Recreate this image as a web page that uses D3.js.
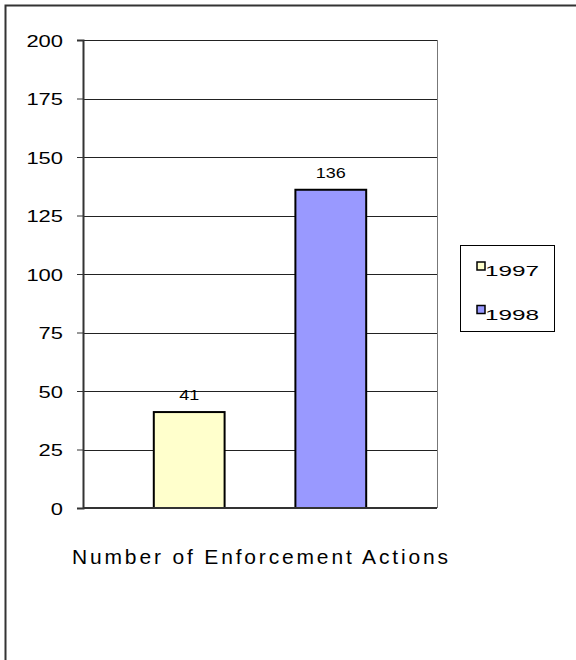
<!DOCTYPE html>
<html>
<head>
<meta charset="utf-8">
<script src="https://cdn.jsdelivr.net/npm/d3@7"></script>
<style>
  body { margin: 0; background: #fff; }
  text { font-family: "Liberation Sans", Arial, sans-serif; fill: #000; }
</style>
</head>
<body>
<div id="chart"></div>
<script>
// data
const years = ["1997", "1998"];
const actions = [41, 136];
const yTicks = [0, 25, 50, 75, 100, 125, 150, 175, 200];
const xTitle = "Number of Enforcement Actions";
const colors = ["#ffffcc", "#9999ff"];

const W = 576, H = 660;

const svg = d3
  .select("#chart")
  .append("svg")
  .attr("width", W)
  .attr("height", H);

// outer chart frame (right and bottom run off the picture)
svg.append("rect")
  .attr("x", 5.5).attr("y", 5.5)
  .attr("width", W + 10).attr("height", H + 10)
  .attr("fill", "none")
  .attr("stroke", "#333")
  .attr("stroke-width", 2);

const plot = { left: 83, right: 437, top: 40, bottom: 508 };

const y = d3.scaleLinear().domain([0, 200]).range([plot.bottom, plot.top]);

const x = d3
  .scaleBand()
  .domain(years)
  .range([plot.left, plot.right])
  .paddingInner(0.5)
  .paddingOuter(0.5);

// gridlines
svg.append("g")
  .selectAll("line")
  .data(yTicks.filter((d) => d > 0))
  .enter()
  .append("line")
  .attr("x1", plot.left)
  .attr("x2", plot.right)
  .attr("y1", (d) => Math.round(y(d)) + 0.5)
  .attr("y2", (d) => Math.round(y(d)) + 0.5)
  .attr("stroke", "#222")
  .attr("stroke-width", 1);

// right border of plot
svg.append("line")
  .attr("x1", plot.right + 0.5).attr("x2", plot.right + 0.5)
  .attr("y1", plot.top).attr("y2", plot.bottom)
  .attr("stroke", "#777")
  .attr("stroke-width", 1);

// bars
svg.append("g")
  .selectAll("rect")
  .data(actions)
  .enter()
  .append("rect")
  .attr("x", (d, i) => x(years[i]))
  .attr("y", (d) => y(d))
  .attr("width", x.bandwidth())
  .attr("height", (d) => y(0) - y(d))
  .attr("fill", (d, i) => colors[i])
  .attr("stroke", "#000")
  .attr("stroke-width", 2);

// value labels (glyphs look stretched in the original)
svg.append("g")
  .selectAll("text")
  .data(actions)
  .enter()
  .append("text")
  .attr("x", (d, i) => x(years[i]) + x.bandwidth() / 2 - String(d).length * 5)
  .attr("y", (d) => y(d) - 12)
  .attr("textLength", (d) => String(d).length * 10)
  .attr("lengthAdjust", "spacingAndGlyphs")
  .style("font-size", "15px")
  .text((d) => d);

// y axis
const yAxis = d3.axisLeft(y).tickValues(yTicks).tickSize(6).tickPadding(14);
const yg = svg.append("g")
  .attr("transform", `translate(${plot.left},0)`)
  .call(yAxis);
yg.select(".domain").attr("stroke", "#333").attr("stroke-width", 2);
yg.selectAll(".tick line").attr("stroke", "#333").attr("stroke-width", 1);
yg.selectAll(".tick text")
  .style("font-size", "17px")
  .style("font-family", '"Liberation Sans", Arial, sans-serif')
  .attr("dy", "0.36em")
  .attr("textLength", (d) => String(d).length * 12.2)
  .attr("lengthAdjust", "spacingAndGlyphs")
  .attr("fill", "#000");

// x axis baseline
svg.append("line")
  .attr("x1", plot.left).attr("x2", plot.right)
  .attr("y1", y(0)).attr("y2", y(0))
  .attr("stroke", "#333")
  .attr("stroke-width", 2);

// x title
svg.append("text")
  .attr("x", 72)
  .attr("y", 564)
  .attr("textLength", 376)
  .attr("lengthAdjust", "spacing")
  .style("font-size", "21px")
  .text(xTitle);

// legend
const legend = svg.append("g");
legend.append("rect")
  .attr("x", 460.5).attr("y", 245.5)
  .attr("width", 94).attr("height", 86)
  .attr("fill", "#fff")
  .attr("stroke", "#000")
  .attr("stroke-width", 1);

const items = legend.selectAll("g.item")
  .data(years)
  .enter()
  .append("g")
  .attr("class", "item")
  .attr("transform", (d, i) => `translate(477,${262 + i * 43.5})`);

items.append("rect")
  .attr("width", 8).attr("height", 8)
  .attr("fill", (d, i) => colors[i])
  .attr("stroke", "#000")
  .attr("stroke-width", 1.5);

items.append("text")
  .attr("x", 8)
  .attr("y", 14)
  .attr("textLength", 54)
  .attr("lengthAdjust", "spacingAndGlyphs")
  .style("font-size", "15.5px")
  .text((d) => d);
</script>
</body>
</html>
